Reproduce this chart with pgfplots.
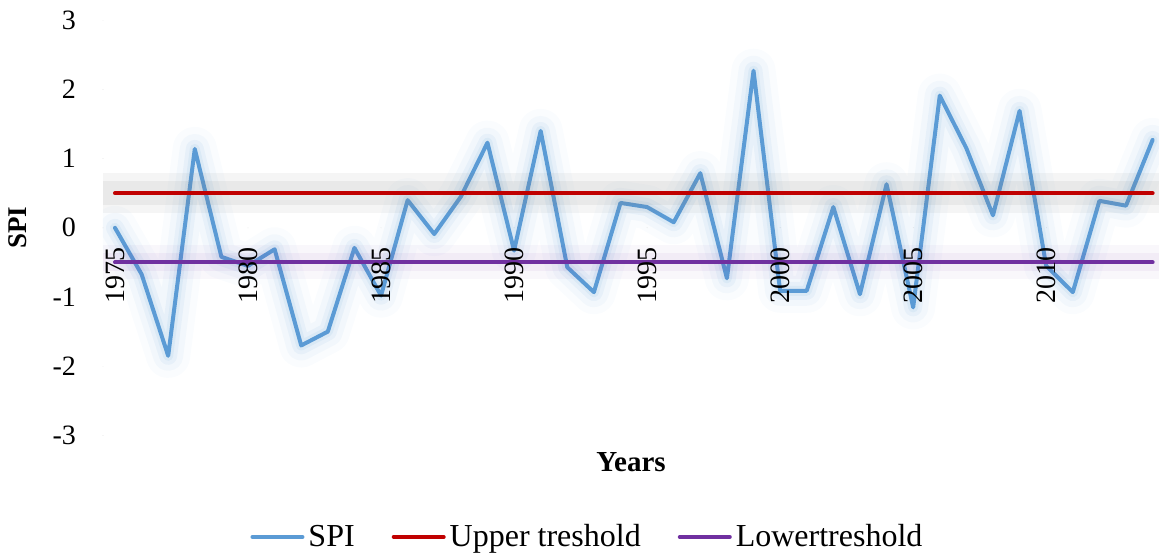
\documentclass[border=0pt]{standalone}
\usepackage{fontspec}
\setmainfont{Liberation Serif}
\usepackage{pgfplots}
\pgfplotsset{compat=1.18}
\definecolor{spiblue}{HTML}{5B9BD5}
\definecolor{upred}{HTML}{C00000}
\definecolor{lowpurple}{HTML}{7030A0}
\definecolor{glowblue}{HTML}{BDD7EE}
\pgfplotstableread{
year spi
1975 0.00
1976 -0.67
1977 -1.85
1978 1.14
1979 -0.42
1980 -0.55
1981 -0.31
1982 -1.70
1983 -1.50
1984 -0.29
1985 -0.98
1986 0.40
1987 -0.09
1988 0.45
1989 1.23
1990 -0.33
1991 1.40
1992 -0.57
1993 -0.93
1994 0.36
1995 0.30
1996 0.08
1997 0.79
1998 -0.73
1999 2.27
2000 -0.91
2001 -0.91
2002 0.30
2003 -0.96
2004 0.63
2005 -1.15
2006 1.91
2007 1.15
2008 0.18
2009 1.69
2010 -0.55
2011 -0.93
2012 0.39
2013 0.32
2014 1.27
}\spidata
\begin{document}
\begin{tikzpicture}
\useasboundingbox (0,0) rectangle (579.5pt,277pt);
\begin{axis}[
  at={(51.5pt,59.3pt)}, anchor=south west,
  scale only axis, width=528pt, height=207.6pt,
  xmin=1974.55, xmax=2014.24, ymin=-3, ymax=3,
  axis x line*=middle, axis y line*=left,
  axis line style={draw=none},
  axis on top,
  major tick length=0pt,
  xtick={1975,1980,...,2010},
  ytick={-3,-2,...,3},
  /pgf/number format/assume math mode=true,
  xticklabel={\pgfmathprintnumber[1000 sep={}]{\tick}},
  xticklabel style={font=\fontsize{14}{16}\selectfont, rotate=90, anchor=east, inner xsep=9.5pt},
  yticklabel style={font=\fontsize{14}{16}\selectfont, anchor=east, xshift=-10pt},
  xlabel={Years},
  xlabel style={at={(axis description cs:0.5,0)}, anchor=north, yshift=-5pt, font=\fontsize{14.5}{16}\selectfont\bfseries},
  ylabel={SPI},
  ylabel style={at={(axis description cs:-0.0805,0.5)}, anchor=center, font=\fontsize{13.5}{16}\selectfont\bfseries},
  legend style={at={(axis description cs:0.4578,-0.2445)}, anchor=center, draw=none, fill=none,
    legend columns=3, font=\fontsize{16}{18}\selectfont,
    nodes={inner sep=0pt},
    /tikz/every odd column/.append style={column sep=2pt},
    /tikz/every even column/.append style={column sep=18.5pt}},
  legend image code/.code={\draw[#1, line cap=round] (1pt,0pt) -- (26pt,0pt);},
  line cap=round, line join=round,
]
% glows
\addplot[forget plot, glowblue, opacity=0.08, line width=22pt] table[x=year,y=spi] {\spidata};
\addplot[forget plot, glowblue, opacity=0.12, line width=15pt] table[x=year,y=spi] {\spidata};
\addplot[forget plot, glowblue, opacity=0.22, line width=9pt] table[x=year,y=spi] {\spidata};
\addplot[forget plot, glowblue, opacity=0.3, line width=5pt] table[x=year,y=spi] {\spidata};
\addplot[spiblue, line width=2pt] table[x=year,y=spi] {\spidata};
\addlegendentry{SPI}
\addplot[forget plot, gray, opacity=0.08, line width=20pt, line cap=butt] coordinates {(1974.55,0.5) (2014.24,0.5)};
\addplot[forget plot, gray, opacity=0.1, line width=12pt, line cap=butt] coordinates {(1974.55,0.5) (2014.24,0.5)};
\addplot[upred, line width=2pt] coordinates {(1975,0.5) (2014,0.5)};
\addlegendentry{Upper treshold}
\addplot[forget plot, lowpurple, opacity=0.04, line width=17pt, line cap=butt] coordinates {(1974.55,-0.5) (2014.24,-0.5)};
\addplot[forget plot, lowpurple, opacity=0.06, line width=9pt, line cap=butt] coordinates {(1974.55,-0.5) (2014.24,-0.5)};
\addplot[lowpurple, line width=2pt] coordinates {(1975,-0.5) (2014,-0.5)};
\addlegendentry{Lowertreshold}
\end{axis}
\end{tikzpicture}
\end{document}
